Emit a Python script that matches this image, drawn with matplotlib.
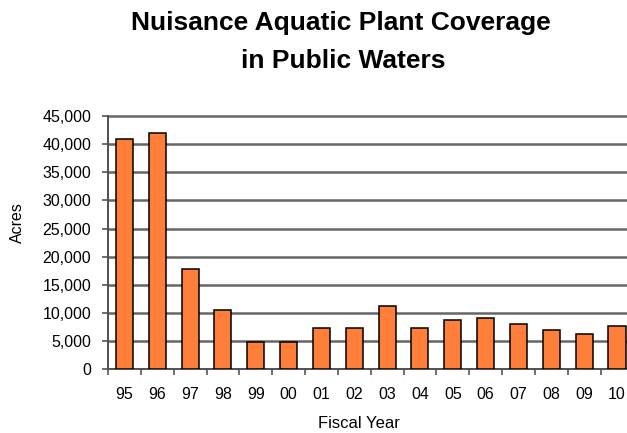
import matplotlib
matplotlib.use("Agg")
import matplotlib.pyplot as plt
import numpy as np

years = ["95", "96", "97", "98", "99", "00", "01", "02", "03", "04", "05", "06", "07", "08", "09", "10"]
acres = [41000, 42000, 17800, 10600, 4800, 4800, 7350, 7350, 11300, 7350, 8800, 9200, 8100, 7050, 6300, 7700]
yticks = [0, 5000, 10000, 15000, 20000, 25000, 30000, 35000, 40000, 45000]
ytick_labels = ["0", "5,000", "10,000", "15,000", "20,000", "25,000", "30,000", "35,000", "40,000", "45,000"]

plt.rcParams['font.family'] = ['Liberation Sans', 'DejaVu Sans']

fig = plt.figure(figsize=(6.27, 4.33), dpi=100)
ax_l, ax_r, ax_b, ax_t = 108, 633.4, 369.3, 116
ax = fig.add_axes([ax_l/627, (433-ax_b)/433, (ax_r-ax_l)/627, (ax_b-ax_t)/433])

x = np.arange(len(years))
ax.bar(x, acres, width=0.52, color="#FF7F3A", edgecolor="black", linewidth=1.1, zorder=3)

ax.set_xlim(-0.5, len(years) - 0.5)
ax.set_ylim(0, 45000)
ax.set_yticks(yticks)
ax.set_yticklabels(ytick_labels, fontsize=11.5)
for yv in yticks[1:]:
    ax.axhline(yv, color="#666666", linewidth=1.8, zorder=1, clip_on=False)

ax.set_xticks(x)
ax.set_xticklabels(years, fontsize=11.5)
ax.set_xticks(np.arange(-0.5, len(years), 1), minor=True)
ax.tick_params(axis='x', which='major', length=0, pad=13)
ax.tick_params(axis='x', which='minor', length=4, direction='out', color="#555555", width=1.2)
ax.tick_params(axis='y', length=4, direction='out', color="#555555", width=1.2, pad=8)

for s in ["top", "right"]:
    ax.spines[s].set_visible(False)
ax.spines["left"].set_color("#505050")
ax.spines["left"].set_linewidth(1.4)
ax.spines["bottom"].set_color("#505050")
ax.spines["bottom"].set_linewidth(1.4)

ax.set_xlabel("Fiscal Year", fontsize=12)
ax.xaxis.set_label_coords((358.5-ax_l)/(ax_r-ax_l), -(423-ax_b)/(ax_b-ax_t))
ax.xaxis.label.set_va("center")
ax.set_ylabel("Acres", fontsize=11.5)
ax.yaxis.set_label_coords((17-ax_l)/(ax_r-ax_l), (ax_b-223)/(ax_b-ax_t))
ax.yaxis.label.set_va("center")

fig.text(341/627, 1 - 23/433, "Nuisance Aquatic Plant Coverage", ha="center", va="center",
         fontsize=19, fontweight="bold")
fig.text(343/627, 1 - 61/433, "in Public Waters", ha="center", va="center",
         fontsize=19, fontweight="bold")

fig.savefig("out.png", dpi=100)
